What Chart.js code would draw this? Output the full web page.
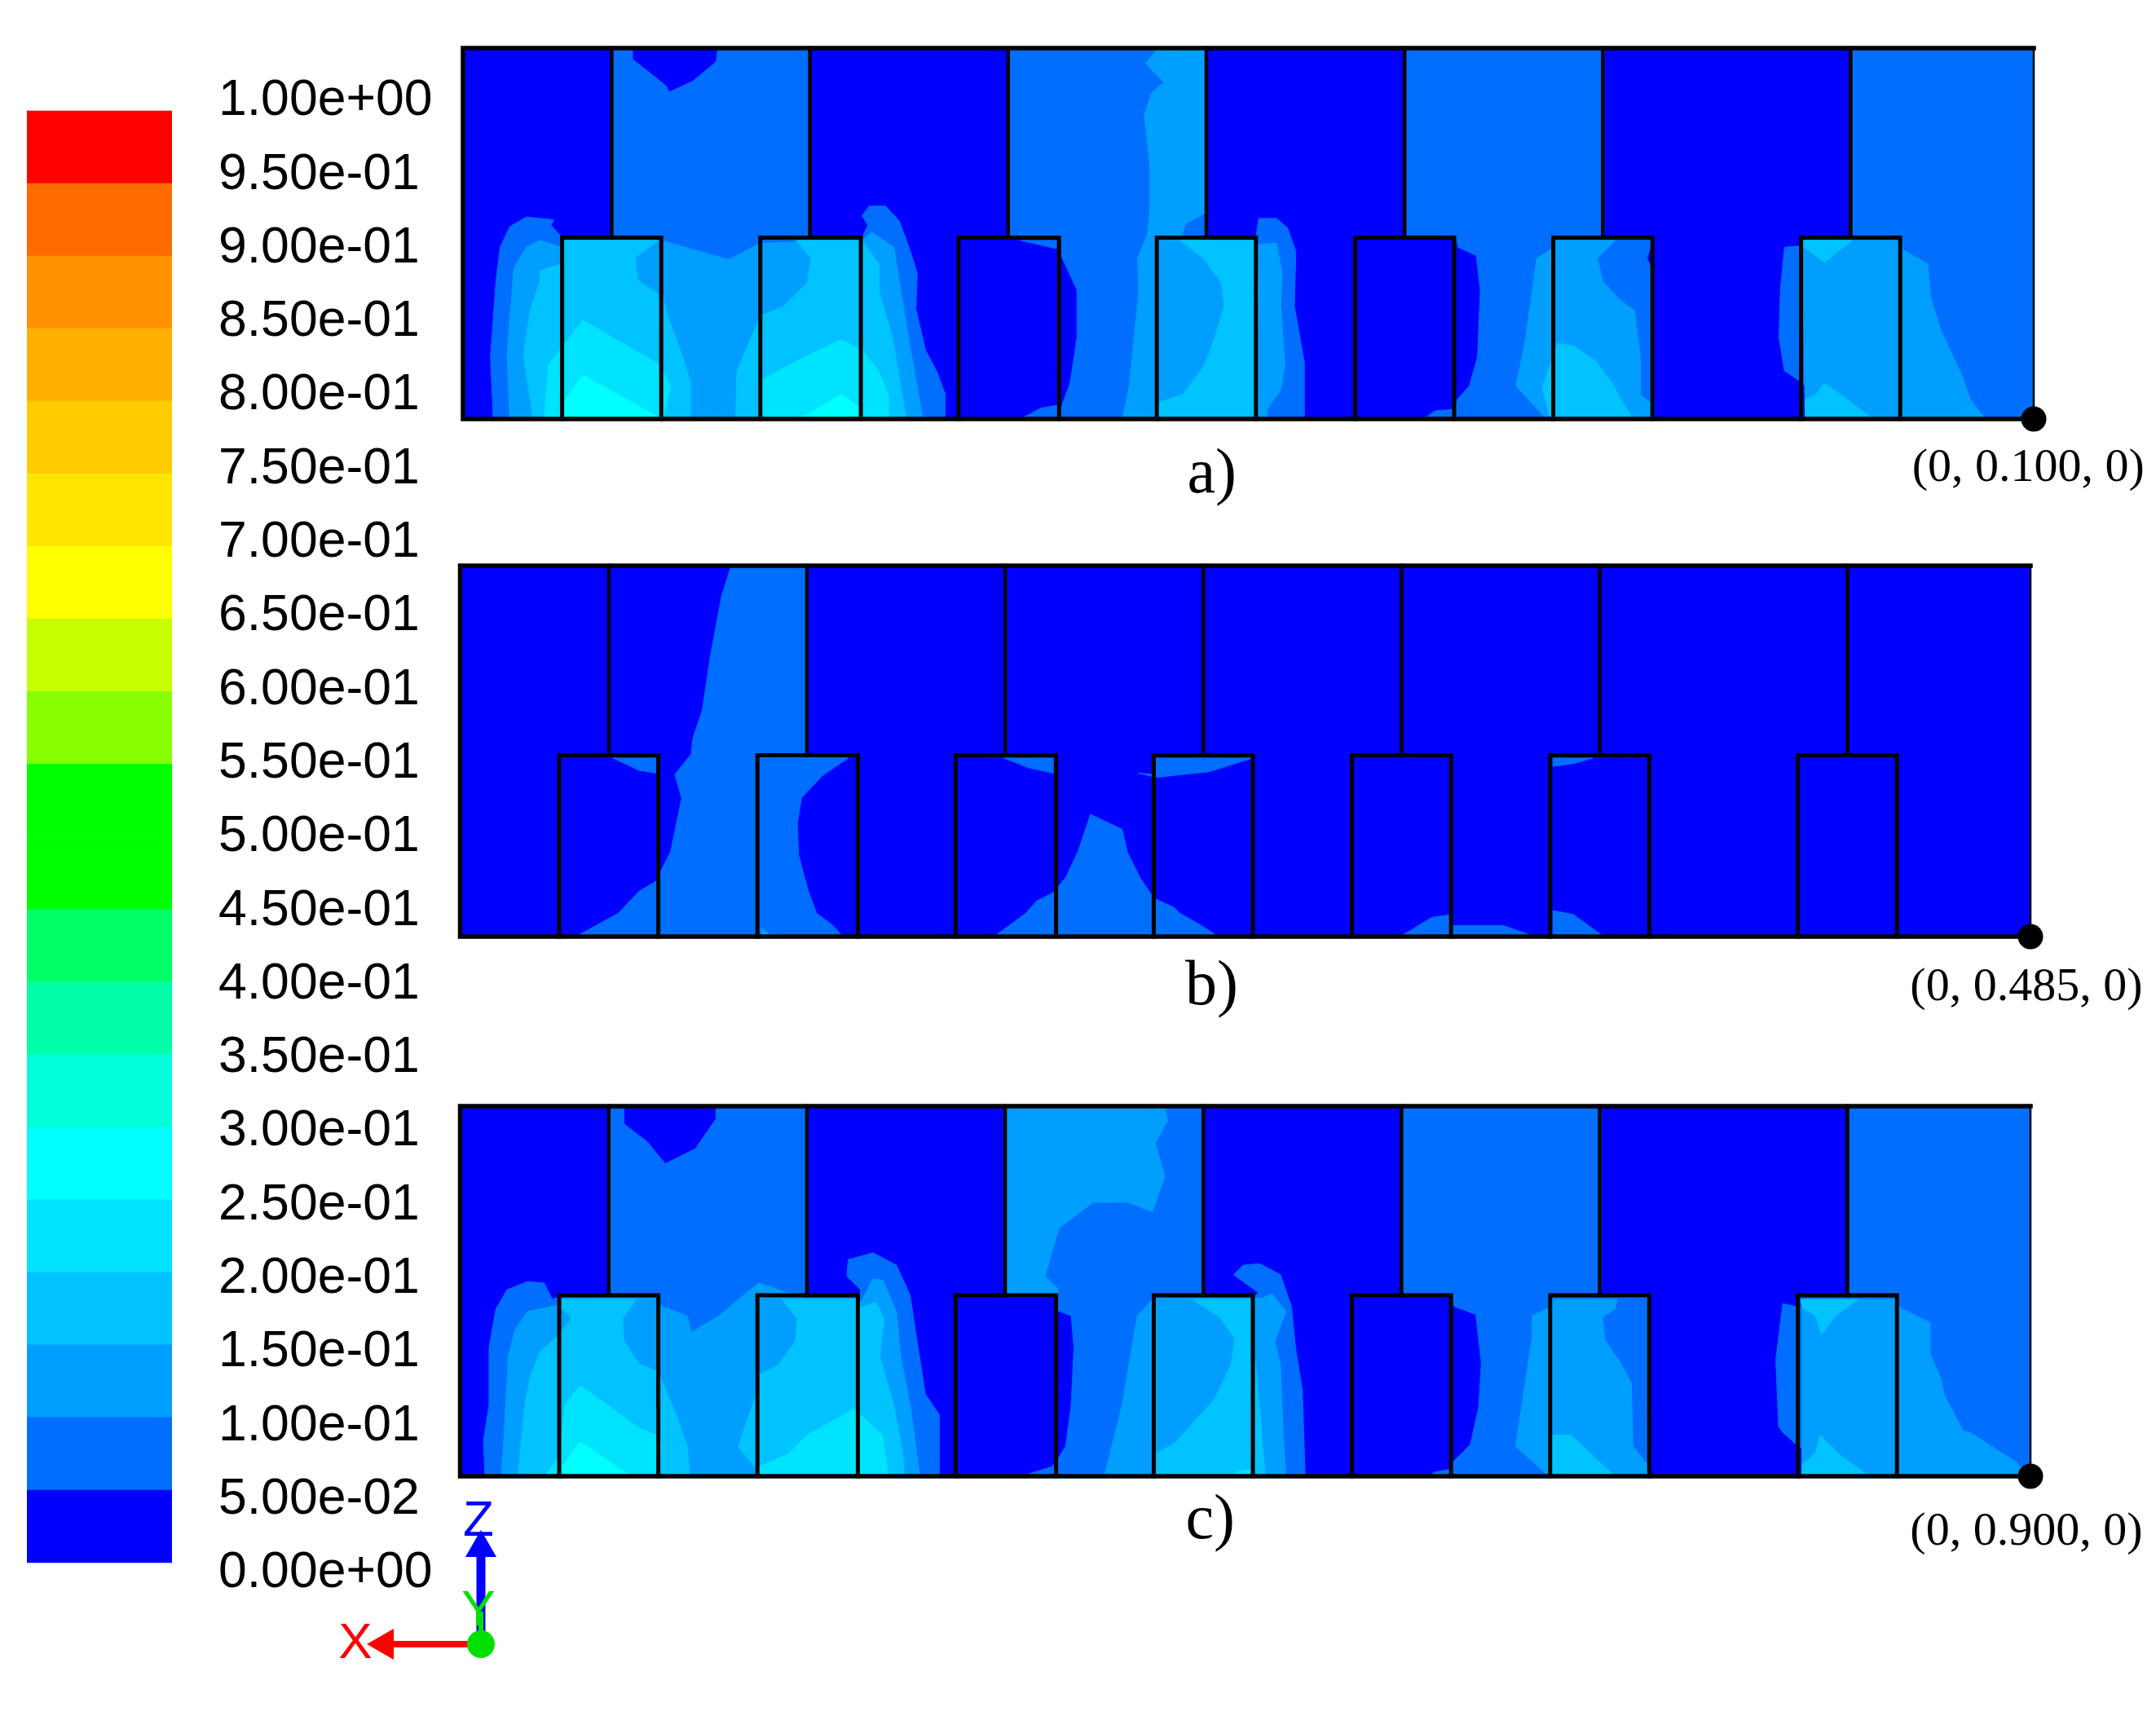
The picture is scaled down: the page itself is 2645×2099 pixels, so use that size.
<!DOCTYPE html>
<html>
<head>
<meta charset="utf-8">
<title>Contour panels</title>
<script src="https://cdn.jsdelivr.net/npm/chart.js@4"></script>
<style>
    html, body { margin: 0; padding: 0; background: #fff; }
    body { position: relative; width: 2645px; height: 2099px; overflow: hidden; }
    canvas { position: absolute; filter: blur(0.6px); }
</style>
</head>
<body>
<canvas id="colorbar" width="560" height="2099" style="left:0;top:0"></canvas>
<canvas id="panelA" width="2105" height="640" style="left:540px;top:0"></canvas>
<canvas id="panelB" width="2105" height="620" style="left:540px;top:660px"></canvas>
<canvas id="panelC" width="2105" height="620" style="left:540px;top:1330px"></canvas>
<canvas id="triad" width="280" height="269" style="left:400px;top:1830px"></canvas>
<script>
// Colour scale
const bandValue = 0.05;
const bandColors = ['#0000ff', '#006fff', '#009fff', '#00c3ff', '#00e3ff', '#00ffff', '#00ffd8', '#00ffa8',
    '#00ff66', '#00ff00', '#00ff00', '#88ff00', '#c8ff00', '#ffff00', '#ffe600', '#ffcc00',
    '#ffb000', '#ff9000', '#ff6a00', '#ff0000'];
const tickValues = [0, 0.05, 0.1, 0.15, 0.2, 0.25, 0.3, 0.35, 0.4, 0.45, 0.5, 0.55, 0.6, 0.65, 0.7, 0.75, 0.8, 0.85, 0.9, 0.95, 1];
const tickLabels = ['0.00e+00', '5.00e-02', '1.00e-01', '1.50e-01', '2.00e-01', '2.50e-01', '3.00e-01',
    '3.50e-01', '4.00e-01', '4.50e-01', '5.00e-01', '5.50e-01', '6.00e-01', '6.50e-01', '7.00e-01',
    '7.50e-01', '8.00e-01', '8.50e-01', '9.00e-01', '9.50e-01', '1.00e+00'];

// Geometry shared by the three sections (x along the section, z down from the top)
const sectionOutline = [[0, 0], [1141, 0], [1141, 270], [0, 270]];
const wallX = [108, 252, 396, 540, 684, 828, 1008];
const boxLeft = [72, 216, 360, 504, 648, 792, 972];
const boxRight = [144, 289, 433, 576, 720, 864, 1044];
const boxTop = 138;
const sectionBottom = 270;

const panelLabels = ['a)', 'b)', 'c)'];
const pointLabels = ['(0, 0.100, 0)', '(0, 0.485, 0)', '(0, 0.900, 0)'];

// Section a) contour regions, one list per colour band
const a1 = [
    [[22,270],[20,225],[24,169],[27,145],[34,130],[46,123],[66,125],[64,129],[72,138],[108,138],[108,0],[123,0],[123,8],[147,27],[150,32],[167,24],[184,10],[185,0],[252,0],[252,138],[290,138],[294,129],[290,122],[295,115],[307,115],[317,126],[324,145],[330,164],[329,190],[336,220],[344,235],[350,251],[350,270]],
    [[405,140],[431,140],[431,146]],
    [[396,0],[540,0],[540,138],[576,138],[578,124],[591,124],[599,131],[605,148],[604,188],[611,228],[611,270],[405,270],[420,262],[432,260],[434,263],[441,244],[446,211],[446,176],[434,150],[433,138],[396,138]],
    [[685,0],[829,0],[829,138],[865,138],[860,153],[865,164],[865,270],[698,270],[706,264],[721,263],[722,256],[731,246],[737,225],[739,176],[736,151],[723,145],[721,138],[685,138]],
    [[1009,0],[1141,0],[1141,270],[975,270],[975,257],[981,252],[972,243],[960,235],[956,211],[957,176],[960,145],[972,144],[973,138],[1009,138]]
];
const a2 = [
    [[34,270],[32,223],[37,160],[46,145],[56,140],[72,145],[72,140],[144,140],[193,154],[216,142],[290,140],[297,134],[313,145],[318,176],[324,213],[334,270]],
    [[505,0],[539,0],[539,120],[525,128],[521,138],[577,143],[591,142],[595,164],[594,188],[597,230],[594,249],[584,263],[584,270],[479,270],[484,246],[491,176],[490,153],[497,136],[499,120],[499,87],[495,49],[500,33],[509,25],[496,11]],
    [[780,153],[793,145],[793,140],[837,140],[824,153],[828,170],[840,183],[851,191],[855,223],[855,252],[865,260],[863,270],[787,270],[765,246],[772,211],[779,160]],
    [[973,140],[1045,140],[1046,147],[1064,157],[1066,181],[1073,204],[1089,239],[1095,256],[1106,270],[975,270]]
];
const a3 = [
    [[51,270],[44,223],[49,190],[56,169],[56,162],[72,157],[72,140],[142,140],[125,153],[127,169],[145,181],[150,199],[159,223],[165,242],[165,270],[198,270],[199,235],[216,195],[233,188],[250,171],[253,153],[242,140],[290,140],[302,157],[302,176],[312,211],[322,270]],
    [[521,140],[576,140],[578,176],[575,270],[505,270],[505,258],[523,252],[538,232],[546,211],[553,188],[551,171],[538,153]],
    [[784,247],[795,215],[807,217],[823,228],[835,244],[840,254],[850,270],[790,270]],
    [[973,140],[1009,140],[989,156],[973,144]],
    [[975,270],[975,256],[983,252],[989,244],[1003,254],[1023,269]]
];
const a4 = [
    [[62,231],[87,198],[142,230],[151,246],[145,270],[59,270]],
    [[217,242],[238,230],[275,212],[290,220],[302,235],[309,253],[309,270],[217,270]]
];
const a5 = [
    [[73,258],[87,238],[130,262],[144,270],[73,270]],
    [[245,270],[275,252],[288,262],[288,270]]
];

// Section b)
const b1 = [
    [[197,0],[251,0],[251,138],[282,140],[263,153],[248,169],[245,188],[246,211],[253,237],[259,253],[271,262],[278,270],[84,270],[115,253],[130,237],[142,230],[146,222],[153,208],[161,169],[156,152],[168,137],[169,126],[176,105],[182,65],[190,22]],
    [[111,140],[130,149],[143,151],[143,140]],
    [[395,140],[413,147],[431,151],[431,140]],
    [[504,140],[576,140],[544,150],[506,154],[493,151],[504,152]],
    [[388,270],[411,253],[419,244],[431,238],[440,227],[449,208],[458,181],[481,192],[485,209],[494,227],[504,242],[519,249],[523,253],[537,261],[551,270]],
    [[683,270],[706,256],[721,254],[721,262],[758,262],[781,270]],
    [[794,251],[809,254],[831,270],[794,270]],
    [[794,140],[823,140],[809,144],[794,146]]
];
const b2 = [
    [[219,264],[227,270],[219,270]]
];

// Section c)
const c1 = [
    [[18,270],[17,244],[21,218],[21,176],[26,148],[34,134],[49,128],[61,129],[67,141],[72,139],[108,139],[108,0],[119,0],[119,13],[136,26],[149,42],[171,31],[186,9],[186,0],[251,0],[251,139],[290,139],[291,134],[281,124],[282,112],[300,107],[317,116],[327,138],[331,165],[338,210],[348,225],[348,270]],
    [[396,0],[540,0],[540,139],[577,139],[580,136],[562,123],[569,116],[581,115],[596,123],[604,146],[607,176],[612,208],[614,270],[408,270],[430,263],[434,258],[440,248],[444,218],[446,176],[444,153],[434,149],[433,139],[396,139]],
    [[685,0],[829,0],[829,139],[864,139],[864,270],[704,270],[708,267],[719,265],[721,260],[734,247],[740,220],[742,187],[738,152],[722,146],[721,139],[685,139]],
    [[1009,0],[1141,0],[1141,270],[975,270],[975,250],[971,247],[961,238],[958,234],[956,185],[961,144],[974,147],[974,139],[1009,139]]
];
const c2 = [
    [[30,270],[32,239],[35,182],[40,163],[49,150],[72,145],[72,140],[144,140],[144,145],[165,153],[168,165],[188,153],[201,142],[217,129],[240,137],[251,140],[289,140],[291,143],[296,134],[300,126],[307,127],[317,150],[320,182],[327,218],[334,270]],
    [[396,0],[512,0],[514,11],[505,27],[512,51],[503,77],[485,70],[460,70],[435,89],[425,124],[435,134],[433,139],[396,139]],
    [[468,270],[481,218],[492,153],[504,140],[583,140],[590,137],[600,150],[592,171],[596,189],[598,239],[600,270]],
    [[779,153],[791,147],[793,141],[841,141],[839,148],[830,154],[832,171],[843,187],[851,202],[852,248],[864,263],[864,270],[791,270],[767,248],[779,168]],
    [[975,141],[1044,141],[1046,147],[1068,158],[1068,181],[1076,199],[1078,210],[1092,237],[1097,238],[1131,260],[1139,270],[975,270]]
];
const c3 = [
    [[42,270],[47,218],[51,197],[58,179],[72,167],[81,154],[72,146],[72,141],[128,141],[118,155],[119,171],[130,188],[144,194],[157,225],[165,248],[167,270],[216,270],[216,265],[202,249],[215,210],[217,196],[231,189],[244,171],[245,155],[234,141],[288,141],[291,147],[302,143],[308,155],[305,182],[315,218],[321,250],[323,270]],
    [[532,141],[576,141],[577,180],[580,210],[585,270],[506,270],[506,253],[519,246],[548,214],[560,189],[563,170],[552,154]],
    [[793,240],[807,240],[823,255],[839,270],[793,270]],
    [[974,141],[1016,141],[999,153],[989,167],[985,153],[975,147]],
    [[975,270],[975,262],[985,253],[988,240],[1003,255],[1024,270]]
];
const c4 = [
    [[61,270],[72,256],[76,218],[87,204],[103,215],[130,235],[143,240],[146,248],[143,270]],
    [[217,263],[238,254],[252,240],[286,221],[307,240],[311,270],[217,270]],
    [[560,270],[566,266],[576,265],[576,270]]
];
const c5 = [
    [[74,270],[74,263],[87,245],[124,270]]
];

// Axis triad (arrow lengths)
const triadXEnd = [[0, 0], [-118, 0]];
const triadZEnd = [[0, 0], [0, 118]];
const triadYEnd = [[0, 0], [0, 40]];

const blackLine = '#000';

// Draws captions at chart data coordinates, they sit outside the plot area
const captionPlugin = {
    id: 'caption',
    afterDraw(chart, args, opts) {
        const ctx = chart.ctx;
        ctx.save();
        ctx.textAlign = 'center';
        ctx.textBaseline = 'middle';
        (opts.items || []).forEach((item) => {
            ctx.font = item.font;
            ctx.fillStyle = item.color || '#000';
            ctx.fillText(item.text, chart.scales.x.getPixelForValue(item.x), chart.scales.y.getPixelForValue(item.y));
        });
        ctx.restore();
    }
};

function toPoints(list) {
    return list.map((p) => ({ x: p[0], y: p[1] }));
}

function polygon(points, color, order) {
    const closed = toPoints(points.concat([points[0]]));
    return {
        data: closed,
        showLine: true,
        fill: 'shape',
        backgroundColor: color,
        borderColor: color,
        borderWidth: 1,
        pointRadius: 0,
        tension: 0,
        order: order
    };
}

function blackPath(points, width) {
    return {
        data: toPoints(points),
        showLine: true,
        fill: false,
        borderColor: blackLine,
        borderWidth: width,
        borderCapStyle: 'square',
        pointRadius: 0,
        tension: 0,
        clip: false,
        order: 1
    };
}

function buildPanel(id, levels, box, captions) {
    const datasets = [polygon(sectionOutline, bandColors[0], 100)];
    levels.forEach((regions, i) => {
        regions.forEach((r) => datasets.push(polygon(r, bandColors[i + 1], 90 - i)));
    });

    // walls, boxes and frame
    wallX.forEach((x) => datasets.push(blackPath([[x, 0], [x, boxTop]], 4.5)));
    boxLeft.forEach((x, i) => {
        const r = boxRight[i];
        datasets.push(blackPath([[x, sectionBottom], [x, boxTop], [r, boxTop], [r, sectionBottom]], 5));
    });
    datasets.push(blackPath([[1141, 0], [0, 0], [0, 270], [1141, 270]], 5.5));
    datasets.push(blackPath([[1141, 0], [1141, 270]], 2.5));

    // reference point at the section corner
    datasets.push({
        data: [{ x: 1141, y: 270 }],
        pointRadius: 15.5,
        pointBackgroundColor: blackLine,
        pointBorderWidth: 0,
        clip: false,
        order: 0
    });

    new Chart(document.getElementById(id), {
        type: 'scatter',
        data: { datasets: datasets },
        options: {
            responsive: false,
            animation: false,
            devicePixelRatio: 1,
            layout: { autoPadding: false, padding: box },
            plugins: {
                legend: { display: false },
                tooltip: { enabled: false },
                caption: { items: captions }
            },
            scales: {
                x: { type: 'linear', min: 0, max: 1141, display: false },
                y: { type: 'linear', min: 0, max: 270, reverse: true, display: false }
            }
        },
        plugins: [captionPlugin]
    });
}

const serif = '"Liberation Serif"';
function sectionCaptions(index, labelX, labelY, pointX, pointY) {
    return [
        { text: panelLabels[index], x: labelX, y: labelY, font: '78px ' + serif },
        { text: pointLabels[index], x: pointX, y: pointY, font: '58px ' + serif }
    ];
}

buildPanel('panelA', [a1, a2, a3, a4, a5],
    { left: 28, right: 150, top: 59, bottom: 126 }, sectionCaptions(0, 544, 311, 1137, 306));
buildPanel('panelB', [b1, b2],
    { left: 24.5, right: 154, top: 34, bottom: 131 }, sectionCaptions(1, 546, 307, 1138, 307));
buildPanel('panelC', [c1, c2, c3, c4, c5],
    { left: 24.5, right: 154, top: 27, bottom: 139 }, sectionCaptions(2, 545, 303, 1138, 311));

// Colour bar, the label axis runs on its own scale because the labels are spaced a bit wider than the bands
new Chart(document.getElementById('colorbar'), {
    type: 'bar',
    data: {
        labels: ['band'],
        datasets: bandColors.map((color) => ({
            data: [bandValue],
            backgroundColor: color,
            barPercentage: 1,
            categoryPercentage: 1,
            yAxisID: 'y',
            stack: 'bands'
        }))
    },
    options: {
        responsive: false,
        animation: false,
        devicePixelRatio: 1,
        layout: { padding: { left: 33, right: 0, top: 100, bottom: 159 } },
        plugins: { legend: { display: false }, tooltip: { enabled: false } },
        scales: {
            x: { display: false, stacked: true },
            y: { display: false, stacked: true, min: -0.0129, max: 1.0202 },
            labelAxis: {
                position: 'right',
                min: -0.00555,
                max: 1.01327,
                grid: { display: false, drawTicks: false },
                border: { display: false },
                afterBuildTicks: (scale) => { scale.ticks = tickValues.map((v) => ({ value: v })); },
                afterFit: (scale) => { scale.width = 349; },
                ticks: {
                    autoSkip: false,
                    padding: 57,
                    color: '#000',
                    font: { family: '"Liberation Sans"', size: 62.5 },
                    callback: (value, i) => tickLabels[i]
                }
            }
        }
    }
});

// Axis triad
function arrowHead(point, color, rotation) {
    return {
        data: toPoints([point]),
        pointStyle: 'triangle',
        pointRadius: 22,
        pointRotation: rotation,
        pointBackgroundColor: color,
        pointBorderWidth: 0,
        clip: false
    };
}

function triadLine(points, color, width) {
    return {
        data: toPoints(points),
        showLine: true,
        borderColor: color,
        borderWidth: width,
        pointRadius: 0,
        tension: 0,
        clip: false
    };
}

new Chart(document.getElementById('triad'), {
    type: 'scatter',
    data: {
        datasets: [
            { data: [{ x: 0, y: 0 }], pointRadius: 17, pointBackgroundColor: '#00e000', pointBorderWidth: 0, order: 0 },
            Object.assign(triadLine(triadYEnd, '#00e000', 6), { order: 1 }),
            Object.assign(arrowHead(triadXEnd[1], '#ff0000', -90), { order: 2 }),
            Object.assign(triadLine(triadXEnd, '#ff0000', 8), { order: 2 }),
            Object.assign(arrowHead(triadZEnd[1], '#0000ff', 0), { order: 3 }),
            Object.assign(triadLine(triadZEnd, '#0000ff', 11), { order: 3 })
        ]
    },
    options: {
        responsive: false,
        animation: false,
        devicePixelRatio: 1,
        layout: { autoPadding: false },
        plugins: {
            legend: { display: false },
            tooltip: { enabled: false },
            caption: {
                items: [
                    { text: 'X', x: -154, y: 0, font: '62px "Liberation Sans"', color: '#ff0000' },
                    { text: 'Y', x: -3, y: 40, font: '62px "Liberation Sans"', color: '#00e000' },
                    { text: 'Z', x: -3, y: 150, font: '62px "Liberation Sans"', color: '#0000ff' }
                ]
            }
        },
        scales: {
            x: { type: 'linear', min: -190, max: 90, display: false },
            y: { type: 'linear', min: -82, max: 187, display: false }
        }
    },
    plugins: [captionPlugin]
});
</script>
</body>
</html>
